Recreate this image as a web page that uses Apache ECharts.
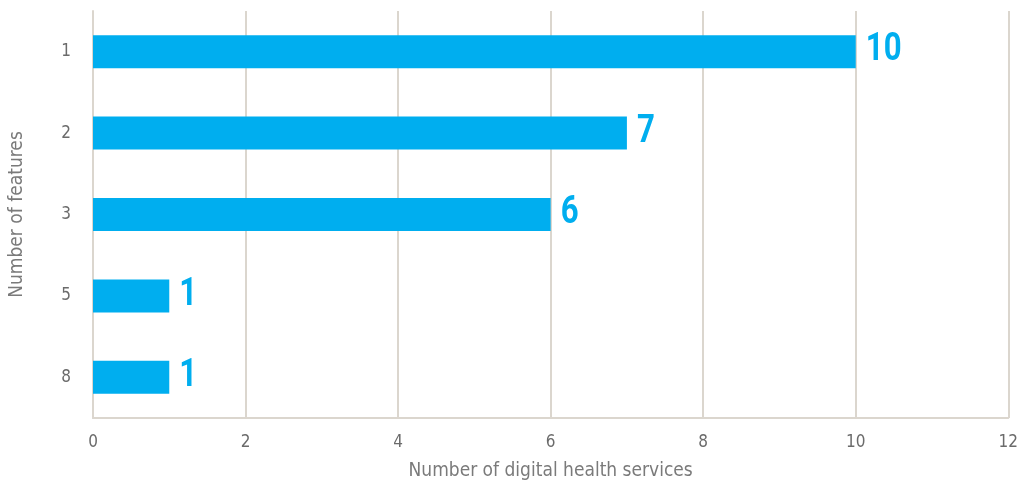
<!DOCTYPE html>
<html>
<head>
<meta charset="utf-8">
<script src="https://cdn.jsdelivr.net/npm/echarts@6/dist/echarts.min.js"></script>
<style>
  html, body { margin: 0; padding: 0; background: #fff; }
  #chart { width: 1021px; height: 486px; }
</style>
</head>
<body>
<div id="chart"></div>
<script>
// Number of features per service (top to bottom) and how many services have it
const categories = ['1', '2', '3', '5', '8'];
const serviceCounts = [10, 7, 6, 1, 1];
const xTicks = [0, 2, 4, 6, 8, 10, 12];

const FONT = '"DejaVu Sans Condensed", "Roboto", sans-serif';
const BLUE = '#00AEEF';
const GRID = '#dbd6ce';

const chart = echarts.init(document.getElementById('chart'), null, { renderer: 'canvas' });
chart.setOption({
  animation: false,
  grid: { left: 93, right: 8, top: 11, bottom: 65, containLabel: false },
  xAxis: {
    type: 'value',
    min: xTicks[0],
    max: xTicks[xTicks.length - 1],
    interval: 2,
    name: 'Number of digital health services',
    nameLocation: 'middle',
    nameGap: 44,
    nameTextStyle: { fontFamily: FONT, fontSize: 19, color: '#7a7a7a' },
    axisLine: { show: true, lineStyle: { color: GRID, width: 2 } },
    axisTick: { show: false },
    axisLabel: { fontFamily: FONT, fontSize: 17, color: '#6b6b6b', margin: 16 },
    splitLine: { show: true, lineStyle: { color: GRID, width: 2 } }
  },
  yAxis: {
    type: 'category',
    inverse: true,
    data: categories,
    name: 'Number of features',
    nameLocation: 'middle',
    nameGap: 66,
    nameRotate: 90,
    nameTextStyle: { fontFamily: FONT, fontSize: 19, color: '#7a7a7a' },
    axisLine: { show: true, lineStyle: { color: GRID, width: 2 } },
    axisTick: { show: false },
    axisLabel: { fontFamily: FONT, fontSize: 17, color: '#6b6b6b', margin: 22 },
    splitLine: { show: false }
  },
  series: [
    {
      type: 'bar',
      data: serviceCounts,
      barWidth: 33,
      itemStyle: { color: BLUE }
    },
    {
      // bold condensed value labels placed just past each bar's end
      type: 'custom',
      silent: true,
      clip: false,
      encode: { x: 0, y: 1 },
      data: serviceCounts.map((v, i) => [v, i]),
      renderItem: function (params, api) {
        const value = api.value(0);
        const pt = api.coord([value, api.value(1)]);
        return {
          type: 'text',
          x: pt[0] + 10,
          y: pt[1] - 1,
          scaleX: 0.8,
          style: {
            text: String(value),
            fill: BLUE,
            font: 'bold 39px Roboto, "DejaVu Sans", sans-serif',
            align: 'left',
            verticalAlign: 'middle'
          }
        };
      }
    }
  ]
});
</script>
</body>
</html>
